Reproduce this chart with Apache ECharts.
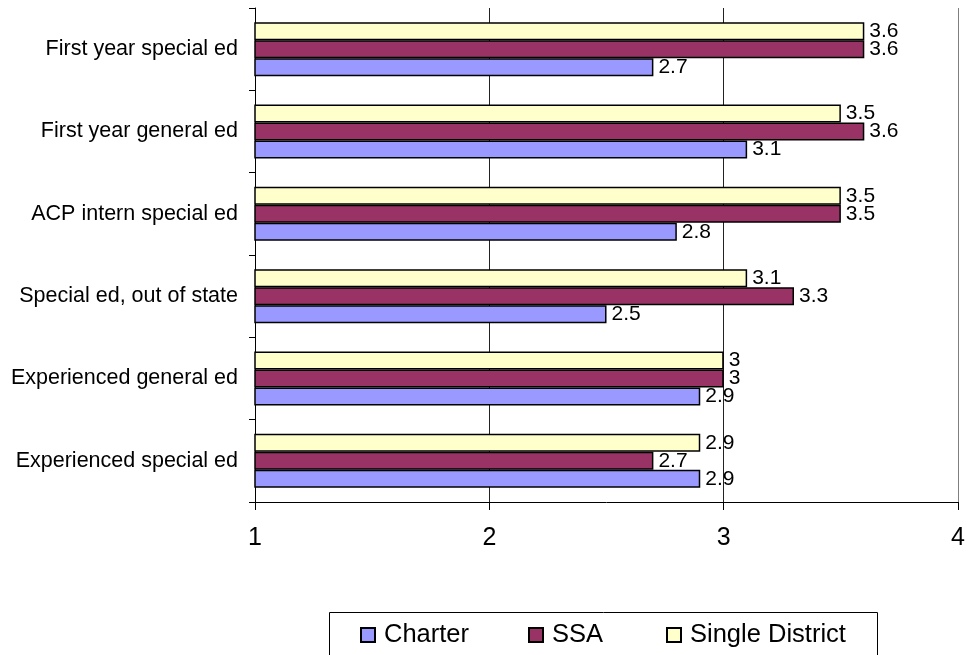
<!DOCTYPE html>
<html>
<head>
<meta charset="utf-8">
<script src="https://cdn.jsdelivr.net/npm/echarts@6/dist/echarts.min.js"></script>
<style>html,body{margin:0;padding:0;background:#fff}#c{width:968px;height:655px}</style>
</head>
<body>
<div id="c"></div>
<script>
var categories = ['Experienced special ed', 'Experienced general ed', 'Special ed, out of state', 'ACP intern special ed', 'First year general ed', 'First year special ed'];
var charter = [2.9, 2.9, 2.5, 2.8, 3.1, 2.7];
var ssa = [2.7, 3, 3.3, 3.5, 3.6, 3.6];
var singleDistrict = [2.9, 3, 3.1, 3.5, 3.5, 3.6];
var xTicks = [1, 2, 3, 4];

var FONT = "'Liberation Sans', Arial, sans-serif";
function mkSeries(name, data, color) {
  return {
    name: name, type: 'bar', data: data, startValue: 1,
    barWidth: 18, barGap: '0%',
    itemStyle: { color: color, borderColor: '#000', borderWidth: 1.5 },
    label: { show: true, position: 'right', distance: 5, color: '#000', fontFamily: FONT, fontSize: 21 },
    emphasis: { disabled: true }
  };
}
function mkLegend(name, left) {
  return {
    data: [name], left: left, top: 622, padding: 0,
    icon: 'rect', itemWidth: 14, itemHeight: 14, itemGap: 0,
    textStyle: { fontFamily: FONT, fontSize: 25.5, color: '#000', padding: [0, 0, 0, 4] },
    selectedMode: false
  };
}
var chart = echarts.init(document.getElementById('c'), null, { renderer: 'canvas' });
chart.setOption({
  animation: false,
  backgroundColor: '#fff',
  grid: { left: 255, right: 8, top: 8, bottom: 153, containLabel: false },
  xAxis: {
    type: 'value', min: xTicks[0], max: xTicks[xTicks.length - 1], interval: 1,
    axisLine: { show: true, lineStyle: { color: '#000', width: 1 } },
    axisTick: { show: true, length: 8, lineStyle: { color: '#000' } },
    axisLabel: { fontFamily: FONT, fontSize: 25, color: '#000', margin: 24 },
    splitLine: { show: true, lineStyle: { color: ['#000', '#222', '#222', '#808080'], width: 1 } }
  },
  yAxis: {
    type: 'category', data: categories,
    axisLine: { show: true, lineStyle: { color: '#000', width: 1 } },
    axisTick: { show: true, length: 6, lineStyle: { color: '#000' } },
    axisLabel: { fontFamily: FONT, fontSize: 21.5, color: '#000', margin: 17 }
  },
  legend: [mkLegend('Charter', 360), mkLegend('SSA', 528), mkLegend('Single District', 666)],
  graphic: [{
    type: 'rect', left: 327, top: 610, z: 100,
    shape: { width: 548, height: 60 },
    style: { fill: 'none', stroke: '#000', lineWidth: 1 }
  }],
  series: [
    mkSeries('Single District', singleDistrict, '#FFFFCC'),
    mkSeries('SSA', ssa, '#993366'),
    mkSeries('Charter', charter, '#9999FF')
  ]
});
</script>
</body>
</html>
